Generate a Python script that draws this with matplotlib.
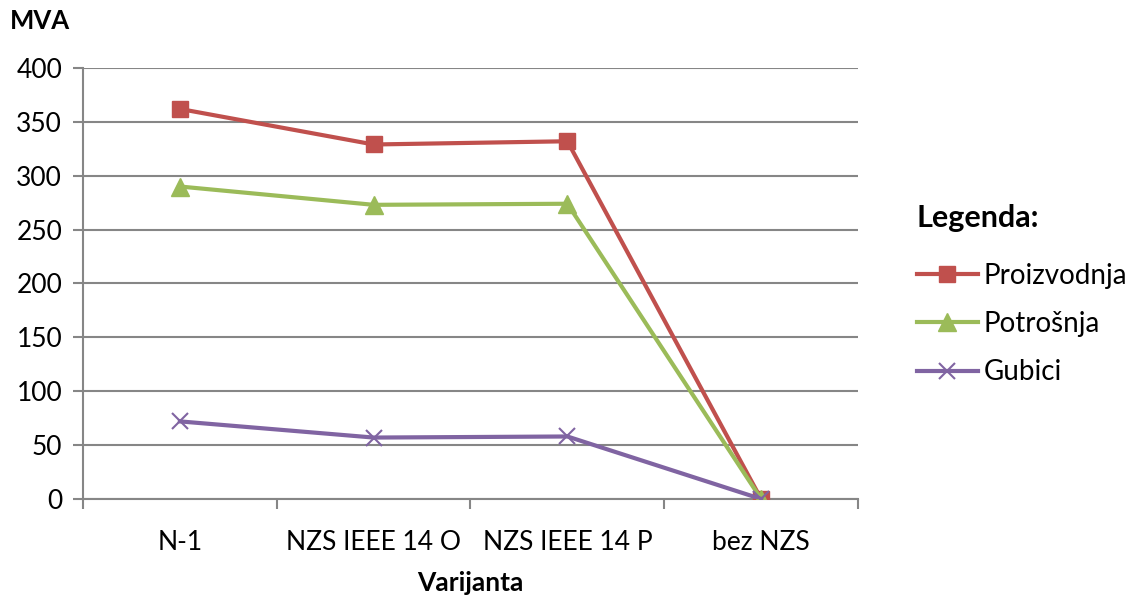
import numpy as np
import matplotlib.pyplot as plt

plt.rcParams['font.family'] = ['Lato', 'DejaVu Sans']

categories = ['N-1', 'NZS IEEE 14 O', 'NZS IEEE 14 P', 'bez NZS']
proizvodnja = [362, 329, 332, 0]
potrosnja = [290, 273, 274, 0]
gubici = [72, 57, 58, 0]
yticks = [0, 50, 100, 150, 200, 250, 300, 350, 400]

fig = plt.figure(figsize=(11.37, 5.98), dpi=100)
ax = fig.add_axes([0.073, 0.1656, 0.6816, 0.7207])

x = np.arange(len(categories))
ax.plot(x, proizvodnja, color='#C0504D', lw=3, marker='s', ms=11,
        label='Proizvodnja', zorder=3)
ax.plot(x, potrosnja, color='#9BBB59', lw=3, marker='^', ms=13,
        label='Potrošnja', zorder=3)
ax.plot(x, gubici, color='#8064A2', lw=3, marker='x', ms=11, mew=1.5,
        label='Gubici', zorder=3)

ax.set_xlim(-0.5, len(categories) - 0.5)
ax.set_ylim(0, 400)
ax.set_yticks(yticks)
ax.set_xticks(x)
ax.set_xticklabels(categories)
ax.set_xticks(np.arange(-0.5, len(categories)), minor=True)
ax.tick_params(axis='x', which='major', length=0, pad=22, labelsize=19)
ax.tick_params(axis='x', which='minor', length=7, color='#868686', width=1.5)
ax.tick_params(axis='y', length=7, color='#868686', width=1.5, labelsize=19, pad=8)

ax.grid(axis='y', color='#868686', lw=1.5)
ax.set_axisbelow(True)
for s in ['top', 'right']:
    ax.spines[s].set_visible(False)
for s in ['left', 'bottom']:
    ax.spines[s].set_color('#868686')
    ax.spines[s].set_linewidth(1.5)

fig.text(0.009, 0.965, 'MVA', fontsize=18.5, fontweight='bold', va='center')
fig.text(0.414, 0.025, 'Varijanta', fontsize=19, fontweight='bold',
         ha='center', va='center')

leg = ax.legend(loc='upper left', bbox_to_anchor=(1.058, 0.716), frameon=False,
                fontsize=20, title='Legenda:', handlelength=2.2,
                handletextpad=0.2, labelspacing=0.8, borderpad=0)
leg.get_title().set_fontweight('bold')
leg.get_title().set_fontsize(22)
leg._legend_box.align = 'left'
leg._legend_box.sep = 22

fig.savefig('out.png', dpi=100)
